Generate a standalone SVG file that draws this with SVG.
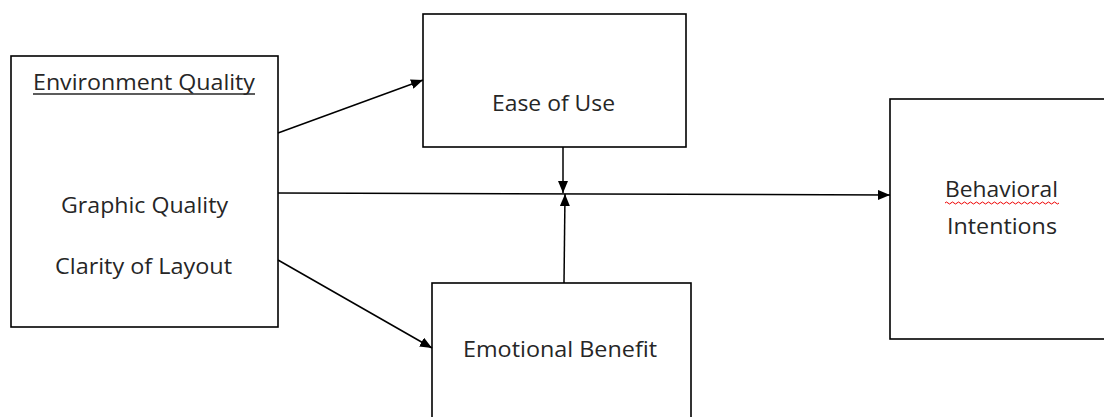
<svg xmlns="http://www.w3.org/2000/svg" width="1104" height="417" viewBox="0 0 1104 417">
<style>
.box{fill:#fff;stroke:#000;stroke-width:1.6}
.t{font-family:"Open Sans","Liberation Sans",sans-serif;font-size:21px;fill:#262626;text-anchor:middle}
.c{stroke:#000;stroke-width:1.5;fill:none}
</style>
<defs>
<marker id="ah" viewBox="0 0 12 10" refX="12" refY="5" markerWidth="12" markerHeight="10" markerUnits="userSpaceOnUse" orient="auto">
<path d="M0,0 L12,5 L0,10 z" fill="#000"/>
</marker>
</defs>
<rect width="1104" height="417" fill="#fff"/>
<g id="env">
<rect class="box" x="11" y="56" width="267" height="271"/>
<text class="t" x="144" y="90" textLength="222" lengthAdjust="spacingAndGlyphs">Environment Quality</text>
<line x1="33" y1="94" x2="255" y2="94" stroke="#262626" stroke-width="1.4"/>
<text class="t" x="144.5" y="213" textLength="167" lengthAdjust="spacingAndGlyphs">Graphic Quality</text>
<text class="t" x="143.5" y="274" textLength="177" lengthAdjust="spacingAndGlyphs">Clarity of Layout</text>
</g>
<g id="ease">
<rect class="box" x="423" y="14" width="263" height="133"/>
<text class="t" x="553.5" y="111" textLength="123" lengthAdjust="spacingAndGlyphs">Ease of Use</text>
</g>
<g id="emo">
<rect class="box" x="432" y="283" width="259" height="140"/>
<text class="t" x="560" y="357" textLength="194" lengthAdjust="spacingAndGlyphs">Emotional Benefit</text>
</g>
<g id="beh">
<rect class="box" x="890" y="99" width="220" height="240"/>
<text class="t" x="1001.5" y="197" textLength="113" lengthAdjust="spacingAndGlyphs">Behavioral</text>
<path d="M945,203 q1.5,-2 3,0 t3,0 t3,0 t3,0 t3,0 t3,0 t3,0 t3,0 t3,0 t3,0 t3,0 t3,0 t3,0 t3,0 t3,0 t3,0 t3,0 t3,0 t3,0 t3,0 t3,0 t3,0 t3,0 t3,0 t3,0 t3,0 t3,0 t3,0 t3,0 t3,0 t3,0 t3,0 t3,0 t3,0 t3,0 t3,0 t3,0 t3,0" fill="none" stroke="#e00" stroke-width="1"/>
<text class="t" x="1002" y="234" textLength="110" lengthAdjust="spacingAndGlyphs">Intentions</text>
</g>
<g id="connectors">
<line class="c" x1="278" y1="133" x2="423" y2="80" marker-end="url(#ah)"/>
<line class="c" x1="278" y1="193" x2="890" y2="195" marker-end="url(#ah)"/>
<line class="c" x1="278" y1="260" x2="432" y2="348" marker-end="url(#ah)"/>
<line class="c" x1="563" y1="147" x2="563" y2="193" marker-end="url(#ah)"/>
<line class="c" x1="564" y1="283" x2="565" y2="194" marker-end="url(#ah)"/>
</g>
</svg>
